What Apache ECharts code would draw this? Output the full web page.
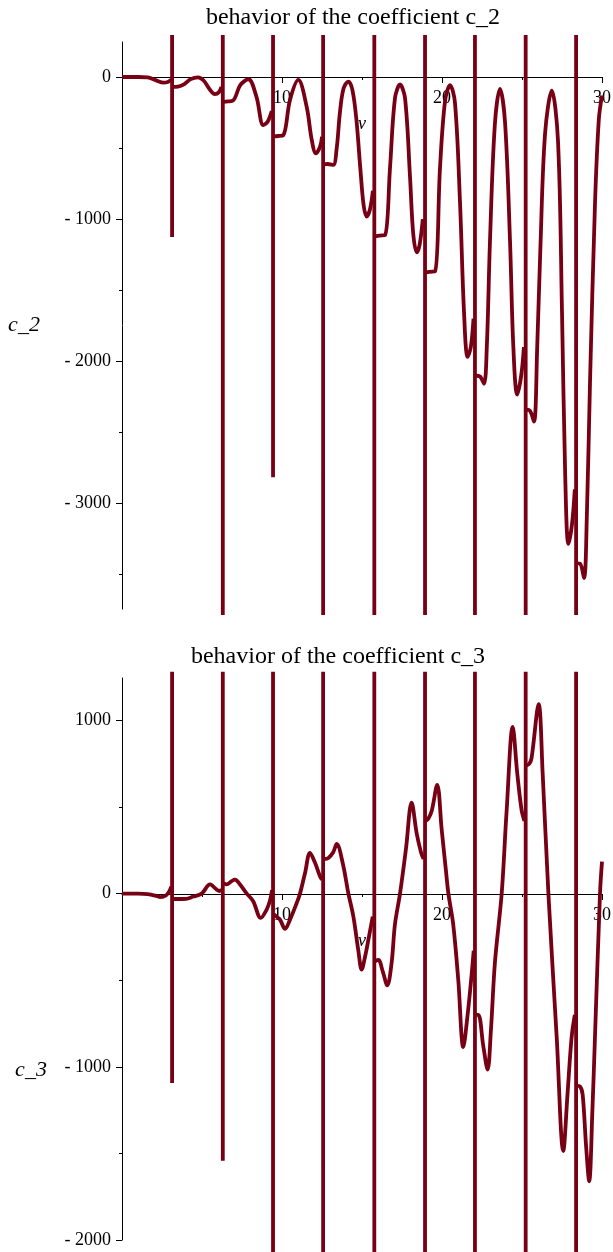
<!DOCTYPE html>
<html>
<head>
<meta charset="utf-8">
<title>behavior of the coefficients c_2, c_3</title>
<script src="https://cdn.jsdelivr.net/npm/echarts@6/dist/echarts.min.js"></script>
<style>
  html, body { margin: 0; padding: 0; background: #fff; }
  #chart { width: 613px; height: 1252px; }
</style>
</head>
<body>
<div id="chart"></div>
<script>
// c_2(v): smooth pieces between the poles
const c2Pieces = [
  [[0,0],[1.0,0],[1.6,-3],[2.1,-22],[2.6,-40],[2.9,-33],[3.08,-20]],
  [[3.16,-70],[3.5,-68],[3.9,-50],[4.3,-15],[4.75,-3],[5.1,-25],[5.5,-90],[5.8,-120],[6.05,-108],[6.22,-70]],
  [[6.35,-175],[6.6,-172],[6.95,-165],[7.4,-56],[7.9,-16],[8.4,-138],[8.83,-338],[9.1,-315],[9.36,-240]],
  [[9.5,-418],[9.75,-415],[10.08,-410],[10.5,-162],[11.02,-21],[11.54,-209],[11.86,-443],[12.12,-537],[12.38,-490],[12.5,-420]],
  [[12.62,-615],[12.85,-612],[13.2,-618],[13.42,-500],[13.62,-250],[13.85,-80],[14.15,-32],[14.4,-90],[14.65,-300],[14.9,-650],[15.1,-900],[15.29,-981],[15.5,-930],[15.68,-800]],
  [[15.82,-1120],[16.1,-1115],[16.44,-1112],[16.75,-640],[17.06,-150],[17.375,-53],[17.69,-150],[18.0,-700],[18.2,-1100],[18.42,-1233],[18.6,-1180],[18.8,-1000]],
  [[18.98,-1375],[19.2,-1370],[19.56,-1368],[19.875,-640],[20.19,-170],[20.5,-58],[20.81,-180],[21.125,-880],[21.375,-1650],[21.6,-1968],[21.8,-1900],[21.97,-1700]],
  [[22.1,-2100],[22.375,-2106],[22.625,-2157],[22.8,-1900],[23.0,-1150],[23.3,-340],[23.625,-83],[23.94,-320],[24.25,-1150],[24.46,-1900],[24.7,-2233],[24.95,-2100],[25.12,-1900]],
  [[25.27,-2340],[25.5,-2347],[25.75,-2423],[25.95,-1900],[26.15,-1200],[26.44,-400],[26.86,-96],[27.25,-450],[27.5,-1650],[27.7,-2800],[27.9,-3283],[28.12,-3150],[28.3,-2900]],
  [[28.42,-3420],[28.625,-3422],[28.875,-3523],[29.05,-3100],[29.25,-2150],[29.56,-900],[29.8,-300],[30,-130]]
];
// poles: x position, top and bottom of the vertical stroke
const c2PoleX = [3.13, 6.30, 9.44, 12.57, 15.77, 18.94, 22.06, 25.23, 28.38];
const c2PoleTop = [295, 295, 295, 295, 295, 295, 295, 295, 295];
const c2PoleBottom = [-1125, -3783, -2815, -3783, -3783, -3783, -3783, -3783, -3783];

// c_3(v)
const c3Pieces = [
  [[0,0],[1.0,0],[1.6,-3],[2.1,-12],[2.4,-20],[2.75,-10],[2.95,12],[3.08,40]],
  [[3.18,-30],[3.45,-31],[4.0,-30],[4.45,-17],[4.98,0],[5.5,53],[5.92,23],[6.1,15],[6.22,25]],
  [[6.36,60],[6.54,53],[6.85,72],[7.06,81],[7.375,53],[7.8,0],[8.2,-44],[8.67,-140],[9.04,-92],[9.25,-40],[9.38,20]],
  [[9.5,-120],[9.625,-131],[9.875,-150],[10.19,-204],[10.5,-150],[10.92,-54],[11.125,0],[11.44,119],[11.75,235],[12.06,179],[12.375,100],[12.5,80]],
  [[12.62,200],[12.9,206],[13.2,239],[13.42,287],[13.8,174],[14.15,0],[14.46,-132],[14.77,-328],[14.98,-439],[15.2,-360],[15.4,-266],[15.67,-132]],
  [[15.82,-390],[16.02,-383],[16.3,-450],[16.58,-530],[16.85,-400],[17.06,-177],[17.375,0],[17.75,260],[18.1,525],[18.42,346],[18.69,238],[18.85,200]],
  [[18.98,420],[19.15,434],[19.36,479],[19.7,628],[19.98,370],[20.25,129],[20.4,0],[20.7,-177],[21.02,-502],[21.33,-886],[21.6,-700],[21.86,-460],[21.98,-330]],
  [[22.1,-700],[22.27,-700],[22.58,-880],[22.85,-1016],[23.05,-800],[23.31,-395],[23.73,0],[24.04,479],[24.42,962],[24.7,697],[24.98,478],[25.15,420]],
  [[25.28,740],[25.46,750],[25.6,784],[26.04,1094],[26.29,697],[26.65,0],[27.17,-831],[27.58,-1486],[27.85,-1150],[28.1,-831],[28.3,-700]],
  [[28.42,-1110],[28.625,-1114],[28.79,-1160],[29.0,-1450],[29.2,-1661],[29.4,-1250],[29.56,-831],[29.875,0],[30,185]]
];
const c3PoleX = [3.13, 6.30, 9.44, 12.57, 15.77, 18.94, 22.06, 25.23, 28.38];
const c3PoleTop = [1281, 1281, 1281, 1281, 1281, 1281, 1281, 1281, 1281];
const c3PoleBottom = [-1093, -1542, -2080, -2080, -2080, -2080, -2080, -2080, -2080];

// tick labels
const c2Ticks = [-3000, -2000, -1000, 0];
const c2Minor = [-3500, -2500, -1500, -500];
const c3Ticks = [-2000, -1000, 0, 1000];
const c3Minor = [-1500, -500, 500];

const RED = '#780014';
const SERIF = '"Liberation Serif", "Times New Roman", serif';

// join pieces with a gap so the line breaks at each pole
function joinPieces(pieces) {
  const out = [];
  pieces.forEach((p, i) => {
    if (i > 0) out.push([p[0][0], null]);
    p.forEach(pt => out.push(pt));
  });
  return out;
}
function poleLines(xs, tops, bottoms) {
  const out = [];
  xs.forEach((x, i) => {
    out.push([x, tops[i]], [x, bottoms[i]], [x, null]);
  });
  return out;
}
const fmt = v => (v < 0 ? '- ' + Math.abs(v) : String(v));

// hidden x axis carrying the data of a plot
function dataXAxis(gi) {
  return { type: 'value', gridIndex: gi, min: 0, max: 30, show: false };
}
// visible v axis, drawn on a thin grid whose bottom edge is the zero line
function shownXAxis(gi) {
  return {
    type: 'value', gridIndex: gi, min: 0, max: 30, interval: 10, position: 'bottom',
    name: 'v', nameLocation: 'middle', nameGap: 38,
    nameTextStyle: { fontFamily: SERIF, fontStyle: 'italic', fontSize: 18, color: '#000' },
    axisLine: { onZero: false, lineStyle: { color: '#000', width: 1 } },
    axisTick: { length: 6, lineStyle: { color: '#000' } },
    minorTick: { show: true, splitNumber: 2, length: 3, lineStyle: { color: '#000' } },
    axisLabel: { showMinLabel: false, margin: 12, fontFamily: SERIF, fontSize: 18, color: '#000' },
    splitLine: { show: false }
  };
}
function yAxesFor(gi, min, max, ticks, minor) {
  return [
    {
      type: 'value', gridIndex: gi, min: min, max: max, position: 'left',
      axisLine: { onZero: false, lineStyle: { color: '#000', width: 1 } },
      axisTick: { length: 6, customValues: ticks, lineStyle: { color: '#000' } },
      axisLabel: { customValues: ticks, formatter: fmt, margin: 11,
        fontFamily: SERIF, fontSize: 18, color: '#000' },
      splitLine: { show: false }
    },
    {
      type: 'value', gridIndex: gi, min: min, max: max, position: 'left',
      axisLine: { show: false, onZero: false },
      axisTick: { length: 3, customValues: minor, lineStyle: { color: '#000' } },
      axisLabel: { show: false },
      splitLine: { show: false }
    }
  ];
}
const hiddenY = gi => ({ type: 'value', gridIndex: gi, min: 0, max: 1, show: false });

const chart = echarts.init(document.getElementById('chart'));
chart.setOption({
  animation: false,
  backgroundColor: '#fff',
  title: [
    { text: 'behavior of the coefficient c_2', left: 348, top: 1, textAlign: 'center',
      textStyle: { fontFamily: SERIF, fontSize: 24, fontWeight: 'normal', color: '#000' } },
    { text: 'behavior of the coefficient c_3', left: 333, top: 640, textAlign: 'center',
      textStyle: { fontFamily: SERIF, fontSize: 24, fontWeight: 'normal', color: '#000' } }
  ],
  grid: [
    { left: 122, top: 42, width: 480, height: 567, outerBoundsMode: 'none' },
    { left: 122, top: 42, width: 480, height: 35, outerBoundsMode: 'none' },
    { left: 122, top: 678, width: 480, height: 562, outerBoundsMode: 'none' },
    { left: 122, top: 678, width: 480, height: 216, outerBoundsMode: 'none' }
  ],
  xAxis: [dataXAxis(0), shownXAxis(1), dataXAxis(2), shownXAxis(3)],
  yAxis: [].concat(
    yAxesFor(0, -3741, 246, c2Ticks, c2Minor),
    [hiddenY(1)],
    yAxesFor(2, -2000, 1245, c3Ticks, c3Minor),
    [hiddenY(3)]
  ),
  graphic: [
    { type: 'text', x: 24, y: 325, style: { text: 'c_2', font: 'italic 22px ' + SERIF,
      fill: '#000', align: 'center', verticalAlign: 'middle', textAlign: 'center', textVerticalAlign: 'middle' } },
    { type: 'text', x: 31, y: 1070, style: { text: 'c_3', font: 'italic 22px ' + SERIF,
      fill: '#000', align: 'center', verticalAlign: 'middle', textAlign: 'center', textVerticalAlign: 'middle' } }
  ],
  series: [
    { name: 'c_2', type: 'line', xAxisIndex: 0, yAxisIndex: 0, data: joinPieces(c2Pieces),
      smooth: 0.35, showSymbol: false, symbol: 'none', clip: false, connectNulls: false,
      lineStyle: { color: RED, width: 3.8 } },
    { name: 'c_2 poles', type: 'line', xAxisIndex: 0, yAxisIndex: 0, data: poleLines(c2PoleX, c2PoleTop, c2PoleBottom),
      showSymbol: false, symbol: 'none', clip: false, connectNulls: false,
      lineStyle: { color: RED, width: 3.8 } },
    { name: 'c_3', type: 'line', xAxisIndex: 2, yAxisIndex: 3, data: joinPieces(c3Pieces),
      smooth: 0.35, showSymbol: false, symbol: 'none', clip: false, connectNulls: false,
      lineStyle: { color: RED, width: 3.8 } },
    { name: 'c_3 poles', type: 'line', xAxisIndex: 2, yAxisIndex: 3, data: poleLines(c3PoleX, c3PoleTop, c3PoleBottom),
      showSymbol: false, symbol: 'none', clip: false, connectNulls: false,
      lineStyle: { color: RED, width: 3.8 } }
  ]
});
</script>
</body>
</html>
